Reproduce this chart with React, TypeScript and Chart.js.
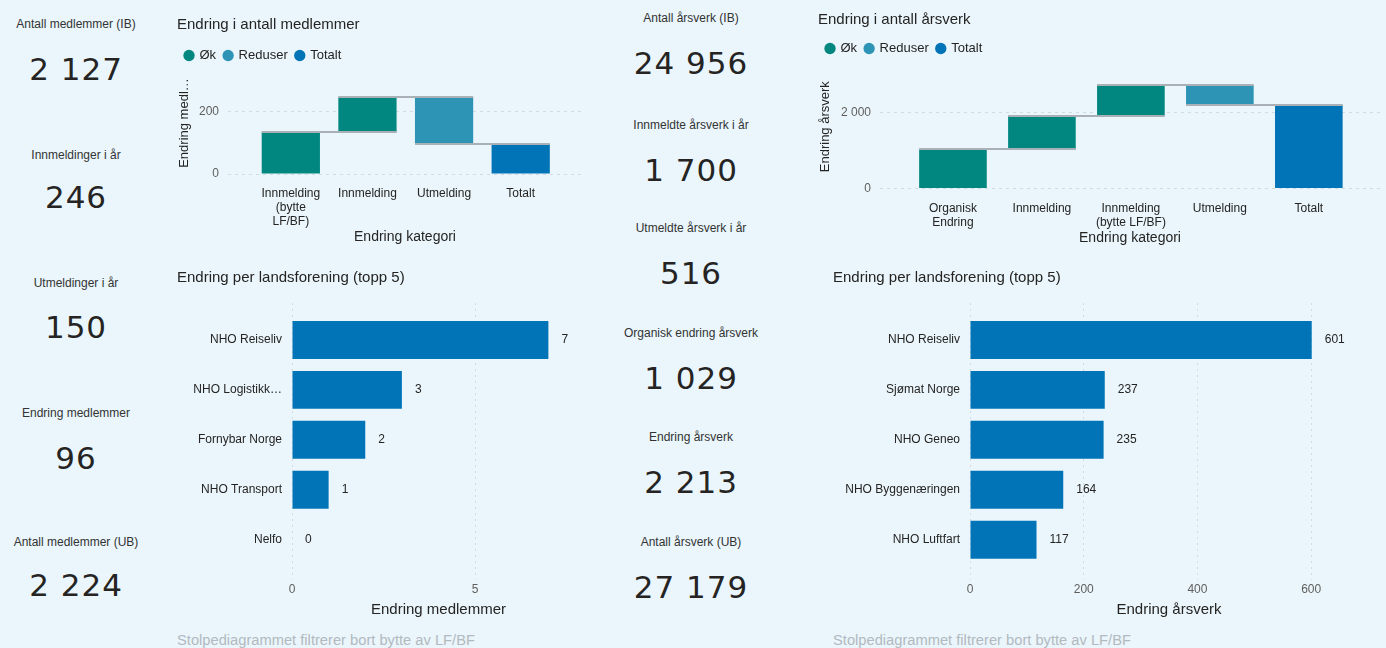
import React, { useEffect, useRef } from "react";
import { Chart, registerables } from "chart.js";

Chart.register(...registerables);

// ---------- DATA ----------
const memberKpiLabels = ["Antall medlemmer (IB)", "Innmeldinger i år", "Utmeldinger i år", "Endring medlemmer", "Antall medlemmer (UB)"];
const memberKpiValues = [2127, 246, 150, 96, 2224];

const yearKpiLabels = ["Antall årsverk (IB)", "Innmeldte årsverk i år", "Utmeldte årsverk i år", "Organisk endring årsverk", "Endring årsverk", "Antall årsverk (UB)"];
const yearKpiValues = [24956, 1700, 516, 1029, 2213, 27179];

const legendLabels = ["Øk", "Reduser", "Totalt"];

const memberCategories = [["Innmelding", "(bytte", "LF/BF)"], ["Innmelding"], ["Utmelding"], ["Totalt"]];
const memberChanges = [134, 112, -150];
const memberTotal = 96;
const memberYTicks = [0, 200];

const yearCategories = [["Organisk", "Endring"], ["Innmelding"], ["Innmelding", "(bytte LF/BF)"], ["Utmelding"], ["Totalt"]];
const yearChanges = [1029, 890, 810, -516];
const yearTotal = 2213;
const yearYTicks = [0, 2000];

const memberOrgNames = ["NHO Reiseliv", "NHO Logistikk…", "Fornybar Norge", "NHO Transport", "Nelfo"];
const memberOrgValues = [7, 3, 2, 1, 0];
const memberXTicks = [0, 5];

const yearOrgNames = ["NHO Reiseliv", "Sjømat Norge", "NHO Geneo", "NHO Byggenæringen", "NHO Luftfart"];
const yearOrgValues = [601, 237, 235, 164, 117];
const yearXTicks = [0, 200, 400, 600];

const footnote = "Stolpediagrammet filtrerer bort bytte av LF/BF";

// ---------- STYLE ----------
const BG = "#EAF6FC";
const TEXT = "#252423";
const TICK = "#605E5C";
const GRID = "#D2DBE2";
const C_INC = "#01877F";
const C_DEC = "#2D94B6";
const C_TOT = "#0074B7";
const FONT = "'Liberation Sans', Arial, sans-serif";

Chart.defaults.font.family = FONT;

const fmt = (n: number) => String(n).replace(/\B(?=(\d{3})+(?!\d))/g, " ");

function waterfall(changes: number[], total: number) {
  let run = 0;
  const points: { x: number; y: [number, number] }[] = [];
  const colors: string[] = [];
  changes.forEach((c, i) => {
    points.push({ x: i, y: [run, run + c] });
    colors.push(c >= 0 ? C_INC : C_DEC);
    run += c;
  });
  points.push({ x: changes.length, y: [0, total] });
  colors.push(C_TOT);
  return { points, colors };
}

const connectorPlugin = {
  id: "connectors",
  afterDatasetsDraw(chart: any) {
    const meta = chart.getDatasetMeta(0);
    const ys = chart.scales.y;
    const raw = chart.data.datasets[0].data;
    const ctx = chart.ctx;
    ctx.save();
    ctx.strokeStyle = "#A9B1B6";
    ctx.lineWidth = 2;
    for (let i = 0; i < meta.data.length - 1; i++) {
      const a = meta.data[i];
      const b = meta.data[i + 1];
      const y = Math.round(ys.getPixelForValue(raw[i].y[1]));
      ctx.beginPath();
      ctx.moveTo(a.x - a.width / 2, y);
      ctx.lineTo(b.x + b.width / 2, y);
      ctx.stroke();
    }
    ctx.restore();
  },
};

const valueLabelPlugin = {
  id: "valueLabels",
  afterDatasetsDraw(chart: any) {
    const meta = chart.getDatasetMeta(0);
    const data = chart.data.datasets[0].data;
    const ctx = chart.ctx;
    ctx.save();
    ctx.font = `12px ${FONT}`;
    ctx.fillStyle = TEXT;
    ctx.textAlign = "left";
    ctx.textBaseline = "middle";
    meta.data.forEach((el: any, i: number) => {
      ctx.fillText(fmt(data[i].x), el.x + 13, el.y);
    });
    ctx.restore();
  },
};

function waterfallConfig(o: {
  title: string;
  cats: string[][];
  changes: number[];
  total: number;
  yTicks: number[];
  yMax: number;
  yTitle: string;
  xMin: number;
  xMax: number;
  yWidth: number;
  titlePad: { top: number; bottom: number };
  xPad: number;
  padLeft: number;
  padRight: number;
}): any {
  const wf = waterfall(o.changes, o.total);
  return {
    type: "bar",
    data: {
      datasets: [
        {
          data: wf.points,
          backgroundColor: wf.colors,
          borderWidth: 0,
          barPercentage: 0.76,
          categoryPercentage: 1,
        },
      ],
    },
    plugins: [connectorPlugin],
    options: {
      animation: false,
      responsive: false,
      events: [],
      layout: { padding: { left: o.padLeft, right: o.padRight, top: 0, bottom: 0 } },
      plugins: {
        tooltip: { enabled: false },
        title: {
          display: true,
          text: o.title,
          align: "start",
          color: TEXT,
          font: { size: 15, weight: "normal" },
          padding: o.titlePad,
        },
        legend: {
          display: true,
          position: "top",
          align: "start",
          labels: {
            usePointStyle: true,
            boxWidth: 8,
            boxHeight: 8,
            padding: 8,
            color: TEXT,
            font: { size: 13 },
            generateLabels: () =>
              legendLabels.map((t, i) => ({
                text: t,
                fillStyle: [C_INC, C_DEC, C_TOT][i],
                strokeStyle: [C_INC, C_DEC, C_TOT][i],
                lineWidth: 0,
                pointStyle: "circle",
                hidden: false,
                fontColor: TEXT,
                datasetIndex: 0,
              })),
          },
        },
      },
      scales: {
        x: {
          type: "linear",
          offset: false,
          min: o.xMin,
          max: o.xMax,
          afterBuildTicks: (s: any) => {
            s.ticks = o.cats.map((_, i) => ({ value: i }));
          },
          grid: { display: false, drawTicks: false, offset: false },
          border: { display: false },
          ticks: {
            autoSkip: false,
            maxRotation: 0,
            padding: o.xPad,
            color: TEXT,
            font: { size: 12, lineHeight: 1.2 },
            callback: (v: number) => o.cats[v] ?? "",
          },
          title: {
            display: true,
            text: "Endring kategori",
            color: TEXT,
            font: { size: 14 },
            padding: { top: -o.xPad, bottom: 0 },
          },
        },
        y: {
          min: 0,
          max: o.yMax,
          afterBuildTicks: (s: any) => {
            s.ticks = o.yTicks.map((v) => ({ value: v }));
          },
          afterFit: (s: any) => {
            s.width = o.yWidth;
          },
          grid: { color: GRID, drawTicks: false, lineWidth: 1 },
          border: { display: false, dash: [3, 4] },
          ticks: {
            color: TICK,
            font: { size: 12 },
            padding: 9,
            callback: (v: number) => fmt(v),
          },
          title: {
            display: true,
            text: o.yTitle,
            color: TEXT,
            font: { size: 13 },
            padding: { top: 0, bottom: 0 },
          },
        },
      },
    },
  };
}

function hbarConfig(o: {
  title: string;
  names: string[];
  values: number[];
  xTicks: number[];
  xMax: number;
  xTitle: string;
  yWidth: number;
  padLeft: number;
  padRight: number;
}): any {
  return {
    type: "bar",
    data: {
      datasets: [
        {
          data: o.values.map((v, i) => ({ x: v, y: i })),
          backgroundColor: C_TOT,
          borderWidth: 0,
          barPercentage: 0.76,
          categoryPercentage: 1,
        },
      ],
    },
    plugins: [valueLabelPlugin],
    options: {
      indexAxis: "y",
      animation: false,
      responsive: false,
      events: [],
      layout: { padding: { left: o.padLeft, right: o.padRight, top: 0, bottom: 0 } },
      plugins: {
        tooltip: { enabled: false },
        legend: { display: false },
        title: {
          display: true,
          text: o.title,
          align: "start",
          color: TEXT,
          font: { size: 15, weight: "normal" },
          padding: { top: 11, bottom: 16 },
        },
      },
      scales: {
        y: {
          type: "linear",
          offset: false,
          reverse: true,
          min: -0.74,
          max: 4.8,
          afterBuildTicks: (s: any) => {
            s.ticks = o.names.map((_, i) => ({ value: i }));
          },
          afterFit: (s: any) => {
            s.width = o.yWidth;
          },
          grid: { display: false, drawTicks: false, offset: false },
          border: { display: false },
          ticks: {
            autoSkip: false,
            padding: 10,
            color: TEXT,
            font: { size: 12 },
            callback: (v: number) => o.names[v] ?? "",
          },
        },
        x: {
          type: "linear",
          min: 0,
          max: o.xMax,
          afterBuildTicks: (s: any) => {
            s.ticks = o.xTicks.map((v) => ({ value: v }));
          },
          grid: { color: GRID, drawTicks: false },
          border: { display: false, dash: [2, 4] },
          ticks: { padding: 3, color: TICK, font: { size: 12 }, callback: (v: number) => fmt(v) },
          title: {
            display: true,
            text: o.xTitle,
            color: TEXT,
            font: { size: 15 },
            padding: { top: 1, bottom: 0 },
          },
        },
      },
    },
  };
}

function ChartBox(props: { left: number; top: number; width: number; height: number; make: () => any }) {
  const ref = useRef<HTMLCanvasElement>(null);
  useEffect(() => {
    const chart = new Chart(ref.current as HTMLCanvasElement, props.make());
    return () => chart.destroy();
  }, []);
  return (
    <canvas
      ref={ref}
      width={props.width}
      height={props.height}
      style={{ position: "absolute", left: props.left, top: props.top, width: props.width, height: props.height }}
    />
  );
}

function Kpi(props: { cx: number; labelY: number; valueY: number; label: string; value: number }) {
  return (
    <>
      <div
        style={{
          position: "absolute",
          left: props.cx,
          top: props.labelY,
          transform: "translate(-50%, -50%)",
          whiteSpace: "nowrap",
          fontFamily: FONT,
          fontSize: 12,
          lineHeight: 1,
          color: "#333333",
        }}
      >
        {props.label}
      </div>
      <div
        style={{
          position: "absolute",
          left: props.cx,
          top: props.valueY,
          transform: "translate(-50%, -50%)",
          whiteSpace: "nowrap",
          fontFamily: "'DejaVu Sans', sans-serif",
          fontSize: 31,
          letterSpacing: 1,
          lineHeight: 1,
          color: TEXT,
        }}
      >
        {fmt(props.value)}
      </div>
    </>
  );
}

const memberKpiPos = [
  [24, 69],
  [155, 197],
  [283, 327],
  [413, 458],
  [542, 585],
];
const yearKpiPos = [
  [18, 63],
  [125, 170],
  [228, 273],
  [333, 378],
  [437, 482],
  [542, 587],
];

export default function App() {
  return (
    <div
      style={{
        position: "fixed",
        left: 0,
        top: 0,
        width: 1386,
        height: 648,
        background: BG,
        overflow: "hidden",
      }}
    >
      {memberKpiLabels.map((l, i) => (
        <Kpi key={"m" + i} cx={76} labelY={memberKpiPos[i][0]} valueY={memberKpiPos[i][1]} label={l} value={memberKpiValues[i]} />
      ))}
      {yearKpiLabels.map((l, i) => (
        <Kpi key={"y" + i} cx={691} labelY={yearKpiPos[i][0]} valueY={yearKpiPos[i][1]} label={l} value={yearKpiValues[i]} />
      ))}

      <ChartBox
        left={170}
        top={0}
        width={420}
        height={246}
        make={() =>
          waterfallConfig({
            title: "Endring i antall medlemmer",
            cats: memberCategories,
            changes: memberChanges,
            total: memberTotal,
            yTicks: memberYTicks,
            yMax: 327,
            yTitle: "Endring medl…",
            xMin: -0.82,
            xMax: 3.8,
            yWidth: 51,
            titlePad: { top: 16, bottom: 7 },
            xPad: 12,
            padLeft: 7,
            padRight: 8,
          })
        }
      />
      <ChartBox
        left={812}
        top={0}
        width={574}
        height={247}
        make={() =>
          waterfallConfig({
            title: "Endring i antall årsverk",
            cats: yearCategories,
            changes: yearChanges,
            total: yearTotal,
            yTicks: yearYTicks,
            yMax: 3260,
            yTitle: "Endring årsverk",
            xMin: -0.82,
            xMax: 4.8,
            yWidth: 62,
            titlePad: { top: 11, bottom: 5 },
            xPad: 13,
            padLeft: 6,
            padRight: 6,
          })
        }
      />
      <ChartBox
        left={170}
        top={258}
        width={425}
        height={361}
        make={() =>
          hbarConfig({
            title: "Endring per landsforening (topp 5)",
            names: memberOrgNames,
            values: memberOrgValues,
            xTicks: memberXTicks,
            xMax: 8,
            xTitle: "Endring medlemmer",
            yWidth: 115,
            padLeft: 7,
            padRight: 10,
          })
        }
      />
      <ChartBox
        left={826}
        top={258}
        width={560}
        height={361}
        make={() =>
          hbarConfig({
            title: "Endring per landsforening (topp 5)",
            names: yearOrgNames,
            values: yearOrgValues,
            xTicks: yearXTicks,
            xMax: 700,
            xTitle: "Endring årsverk",
            yWidth: 137,
            padLeft: 7,
            padRight: 18,
          })
        }
      />
      {[177, 833].map((x) => (
        <div
          key={x}
          style={{
            position: "absolute",
            left: x,
            top: 640,
            transform: "translateY(-50%)",
            whiteSpace: "nowrap",
            fontFamily: FONT,
            fontSize: 14.7,
            lineHeight: 1,
            color: "#B2B9BF",
          }}
        >
          {footnote}
        </div>
      ))}
    </div>
  );
}
